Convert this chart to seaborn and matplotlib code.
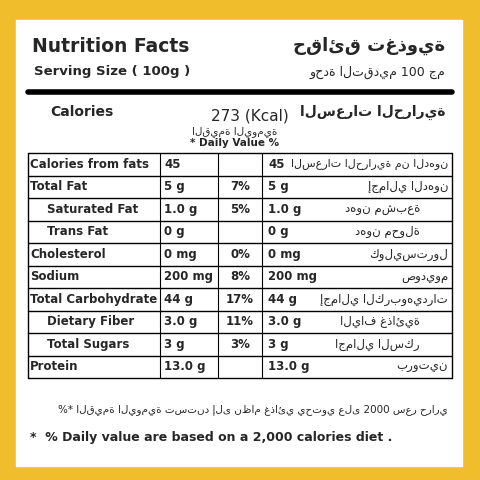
import matplotlib
matplotlib.use("Agg")
import matplotlib.pyplot as plt
import seaborn as sns

nutrients = ["Calories from fats", "Total Fat", "Saturated Fat", "Trans Fat", "Cholesterol",
             "Sodium", "Total Carbohydrate", "Dietary Fiber", "Total Sugars", "Protein"]
indent = [False, False, True, True, False, False, False, True, True, False]
amounts = ["45", "5 g", "1.0 g", "0 g", "0 mg", "200 mg", "44 g", "3.0 g", "3 g", "13.0 g"]
daily_pct = ["", "7%", "5%", "", "0%", "8%", "17%", "11%", "3%", ""]
arabic = ["السعرات الحرارية من الدهون", "إجمالي الدهون", "دهون مشبعة", "دهون محولة", "كوليسترول",
          "صوديوم", "إجمالي الكربوهيدرات", "الياف غذائية", "اجمالي السكر", "بروتين"]

sns.set_theme(style="white")
plt.rcParams['font.family'] = ['DejaVu Sans']
fig = plt.figure(figsize=(4.8, 4.8), dpi=100)
fig.patch.set_facecolor("#F0BE2C")
ax = fig.add_axes([0, 0, 1, 1])
ax.set_xlim(0, 480); ax.set_ylim(480, 0); ax.axis("off")
ax.add_patch(plt.Rectangle((16, 20), 446, 446, color="white", zorder=0))

ax.text(32, 46, "Nutrition Facts", fontsize=13.5, weight="bold", va="center")
ax.text(34, 72, "Serving Size ( 100g )", fontsize=9.5, weight="bold", va="center")
ax.text(445, 46, "حقائق تغذوية", fontsize=13, weight="bold", va="center", ha="right")
ax.text(445, 72, "وحدة التقديم 100 جم", fontsize=9, va="center", ha="right")
ax.plot([28, 452], [92, 92], color="black", lw=4)
ax.text(50, 112, "Calories", fontsize=10, weight="bold", va="center")
ax.text(250, 116, "273 (Kcal)", fontsize=11, va="center", ha="center")
ax.text(235, 132, "القيمة اليومية", fontsize=7.5, va="center", ha="center")
ax.text(235, 143, "* Daily Value %", fontsize=7.5, weight="bold", va="center", ha="center")
ax.text(445, 112, "السعرات الحرارية", fontsize=10, weight="bold", va="center", ha="right")

top, h = 153, 22.5
n = len(nutrients)
for x in [28, 452]:
    ax.plot([x, x], [top, top + n * h], color="black", lw=1)
for x in [160, 218, 262]:
    ax.plot([x, x], [top, top + n * h], color="black", lw=0.8)
for i in range(n + 1):
    ax.plot([28, 452], [top + i * h] * 2, color="black", lw=1)
for i in range(n):
    y = top + i * h + h / 2
    ax.text(47 if indent[i] else 30, y, nutrients[i], fontsize=8.5, weight="bold", va="center")
    ax.text(164, y, amounts[i], fontsize=8.5, weight="bold", va="center")
    ax.text(240, y, daily_pct[i], fontsize=8.5, weight="bold", va="center", ha="center")
    ax.text(268, y, amounts[i], fontsize=8.5, weight="bold", va="center")
    ax.text(448 if not indent[i] else 420, y, arabic[i], fontsize=8 if i == 0 else 8.5,
            va="center", ha="right")

ax.text(448, 410, "%* القيمة اليومية تستند إلى نظام غذائي يحتوي على 2000 سعر حراري", fontsize=7.5, va="center", ha="right")
ax.text(30, 437, "*  % Daily value are based on a 2,000 calories diet .", fontsize=9, weight="bold", va="center")
fig.savefig("out.png", dpi=100)
